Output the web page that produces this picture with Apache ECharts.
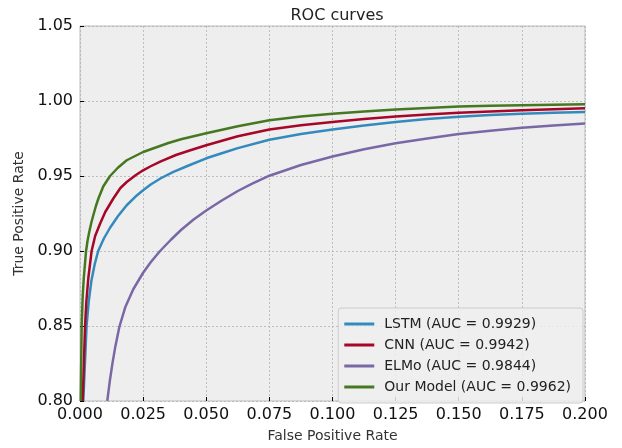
<!DOCTYPE html>
<html>
<head>
<meta charset="utf-8">
<script src="https://cdn.jsdelivr.net/npm/echarts@6/dist/echarts.min.js"></script>
<style>
  html, body { margin: 0; padding: 0; background: #fff; }
  #chart { width: 622px; height: 448px; }
</style>
</head>
<body>
<div id="chart"></div>
<script>
// ROC 曲线数据
const lstmFpr = [0.0013, 0.0026, 0.0035, 0.0045, 0.0058, 0.0072, 0.0095, 0.0119, 0.015, 0.0185, 0.022, 0.025, 0.028, 0.032, 0.037, 0.0423, 0.05, 0.058, 0.0625, 0.075, 0.0875, 0.1, 0.1125, 0.125, 0.1375, 0.15, 0.1625, 0.175, 0.1875, 0.2];
const lstmTpr = [0.800, 0.850, 0.867, 0.880, 0.891, 0.900, 0.9085, 0.9155, 0.9232, 0.9305, 0.9363, 0.9405, 0.9443, 0.9485, 0.9527, 0.9565, 0.9618, 0.9662, 0.9686, 0.9742, 0.978, 0.981, 0.9837, 0.986, 0.988, 0.9895, 0.9906, 0.9915, 0.9922, 0.9927];

const cnnFpr = [0.00106, 0.002, 0.0025, 0.0033, 0.0046, 0.006, 0.0079, 0.01, 0.0132, 0.016, 0.0185, 0.022, 0.025, 0.028, 0.032, 0.038, 0.0434, 0.05, 0.0625, 0.075, 0.0875, 0.1, 0.1125, 0.125, 0.1375, 0.15, 0.1625, 0.175, 0.1875, 0.2];
const cnnTpr = [0.800, 0.850, 0.866, 0.882, 0.900, 0.910, 0.918, 0.926, 0.935, 0.942, 0.946, 0.9505, 0.9538, 0.9565, 0.9598, 0.964, 0.967, 0.9705, 0.9765, 0.981, 0.9838, 0.986, 0.988, 0.9897, 0.991, 0.9921, 0.993, 0.9938, 0.9945, 0.9952];

const elmoFpr = [0.0108, 0.0118, 0.0129, 0.014, 0.0156, 0.018, 0.0211, 0.025, 0.028, 0.0317, 0.036, 0.04, 0.045, 0.05, 0.056, 0.0625, 0.068, 0.075, 0.0875, 0.1, 0.1125, 0.125, 0.1375, 0.15, 0.1625, 0.175, 0.1875, 0.2];
const elmoTpr = [0.800, 0.8133, 0.8256, 0.8364, 0.8495, 0.8629, 0.8745, 0.8855, 0.8925, 0.900, 0.9075, 0.914, 0.921, 0.927, 0.9335, 0.940, 0.9447, 0.9502, 0.9573, 0.963, 0.9678, 0.9718, 0.975, 0.978, 0.9802, 0.9822, 0.9837, 0.985];

const oursFpr = [0.0003, 0.00066, 0.0011, 0.0015, 0.0024, 0.003, 0.0037, 0.0045, 0.0053, 0.0063, 0.0073, 0.0092, 0.0119, 0.015, 0.0185, 0.025, 0.03, 0.035, 0.04, 0.045, 0.05, 0.0625, 0.075, 0.0875, 0.1, 0.1125, 0.125, 0.1375, 0.15, 0.1625, 0.175, 0.1875, 0.2];
const oursTpr = [0.800, 0.850, 0.871, 0.882, 0.900, 0.907, 0.913, 0.919, 0.924, 0.930, 0.935, 0.943, 0.950, 0.9555, 0.9605, 0.966, 0.969, 0.972, 0.9745, 0.9765, 0.9785, 0.9832, 0.9872, 0.9896, 0.9915, 0.993, 0.9943, 0.9954, 0.9963, 0.9968, 0.9972, 0.9975, 0.9978];

const seriesNames = ["LSTM (AUC = 0.9929)", "CNN (AUC = 0.9942)", "ELMo (AUC = 0.9844)", "Our Model (AUC = 0.9962)"];
const colors = ["#348ABD", "#A60628", "#7A68A6", "#467821"];

function pairs(xs, ys) {
  return xs.map((x, i) => [x, ys[i]]);
}

const curves = [
  pairs(lstmFpr, lstmTpr),
  pairs(cnnFpr, cnnTpr),
  pairs(elmoFpr, elmoTpr),
  pairs(oursFpr, oursTpr)
];

const font = "DejaVu Sans";
let myChart = echarts.init(document.getElementById("chart"));
myChart.setOption({
  animation: false,
  backgroundColor: "#fff",
  title: {
    text: "ROC curves",
    left: 332,
    top: 3,
    textAlign: "center",
    textStyle: { fontFamily: font, fontSize: 16, fontWeight: "normal", color: "#222" }
  },
  grid: {
    left: 80,
    right: 37,
    top: 26,
    bottom: 44,
    show: true,
    backgroundColor: "#eeeeee",
    borderColor: "#bcbcbc",
    borderWidth: 1
  },
  legend: {
    data: seriesNames,
    orient: "vertical",
    right: 39,
    bottom: 45,
    icon: "rect",
    itemWidth: 30,
    itemHeight: 3,
    itemGap: 7,
    padding: [9, 12, 9, 6],
    backgroundColor: "rgba(238,238,238,0.85)",
    borderColor: "#cccccc",
    borderWidth: 1,
    borderRadius: 3,
    textStyle: { fontFamily: font, fontSize: 14, color: "#222", padding: [0, 0, 0, 5] }
  },
  xAxis: {
    type: "value",
    min: 0,
    max: 0.2,
    interval: 0.025,
    name: "False Positive Rate",
    nameLocation: "middle",
    nameGap: 28,
    nameTextStyle: { fontFamily: font, fontSize: 14, color: "#333" },
    axisLine: { show: false },
    axisTick: { show: true, inside: true, length: 4, lineStyle: { color: "#000" } },
    axisLabel: {
      fontFamily: font, fontSize: 16, color: "#111", margin: 6,
      formatter: v => v.toFixed(3)
    },
    splitLine: { show: true, lineStyle: { color: "#b2b2b2", type: [2, 2], width: 0.8 } }
  },
  yAxis: {
    type: "value",
    min: 0.8,
    max: 1.05,
    interval: 0.05,
    name: "True Positive Rate",
    nameLocation: "middle",
    nameGap: 47,
    nameTextStyle: { fontFamily: font, fontSize: 14, color: "#333" },
    axisLine: { show: false },
    axisTick: { show: true, inside: true, length: 4, lineStyle: { color: "#000" } },
    axisLabel: {
      fontFamily: font, fontSize: 16, color: "#111", margin: 7,
      formatter: v => v.toFixed(2)
    },
    splitLine: { show: true, lineStyle: { color: "#b2b2b2", type: [2, 2], width: 0.8 } }
  },
  series: seriesNames.map((name, i) => ({
    name: name,
    type: "line",
    data: curves[i],
    color: colors[i],
    showSymbol: false,
    symbol: "none",
    smooth: false,
    clip: true,
    lineStyle: { width: 2.5, color: colors[i], join: "round" },
    z: 2 + i
  }))
});
</script>
</body>
</html>
